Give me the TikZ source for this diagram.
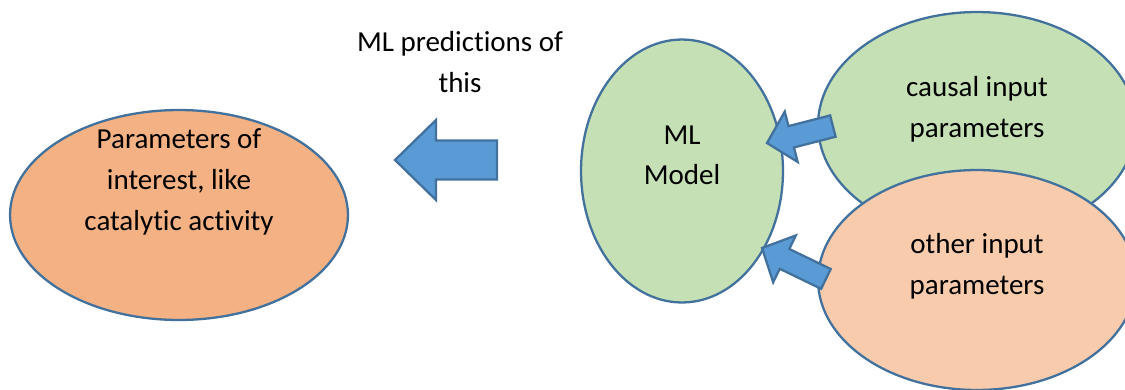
\documentclass[tikz,border=0pt]{standalone}
\usepackage{fontspec}
\setmainfont{Carlito}[Ligatures=NoCommon]
\usetikzlibrary{shapes.geometric,positioning}

\definecolor{edgeblue}{HTML}{41719C}
\definecolor{arrowblue}{HTML}{5B9BD5}
\definecolor{targetorange}{HTML}{F4B183}
\definecolor{modelgreen}{HTML}{C5E0B4}
\definecolor{otherorange}{HTML}{F8CBAD}

\tikzset{
	blob/.style={ellipse, draw=edgeblue, line width=1.3pt, inner sep=0pt},
	txt/.style={align=center, font=\fontsize{16.5}{23.2}\selectfont},
	arrowbody/.style={draw=edgeblue, fill=arrowblue, line width=1.3pt, line join=miter},
	% block arrow: tip at the origin, tail along +x
	pics/blockarrow/.style args={#1/#2/#3/#4}{code={
		\draw[arrowbody] (0,0) -- (#2,#3) -- (#2,#4) -- (#1,#4)
			-- (#1,-#4) -- (#2,-#4) -- (#2,-#3) -- cycle;
	}}
}

\begin{document}
\begin{tikzpicture}[x=0.02cm, y=-0.02cm]
	\useasboundingbox (0,0) rectangle (1125,389);
	
	% ellipses
	\node[blob, fill=targetorange, minimum width=6.76cm, minimum height=4.2cm] (target) at (179,215) {};
	\node[blob, fill=modelgreen, minimum width=4.04cm, minimum height=5.26cm] (model) at (682,171) {};
	\node[blob, fill=modelgreen, minimum width=6.36cm, minimum height=4.52cm] (causal) at (977,125) {};
	\node[blob, fill=otherorange, minimum width=6.36cm, minimum height=4.4cm] (other) at (977,280) {};
	
	% texts
	\node[txt] (targettxt) at ([yshift=18.7pt]target.center) {Parameters of\\interest, like\\catalytic activity};
	\node[txt] (modeltxt) at ([yshift=9pt]model.center) {ML\\Model};
	\node[txt] (causaltxt) at ([yshift=9pt]causal.center) {causal input\\parameters};
	\node[txt] (othertxt) at ([yshift=8pt]other.center) {other input\\parameters};
	\node[txt] (predtxt) at (460,62) {ML predictions of\\this};
	
	% block arrows
	\pic (bigarr) at (395,160) {blockarrow={102/41/40/19.5}};
	\pic[rotate=14.4] (causalarr) at (767,143) {blockarrow={68/25/26/11}};
	\pic[rotate=-25.8] (otherarr) at (762,248) {blockarrow={71/25/26/11}};
\end{tikzpicture}
\end{document}
